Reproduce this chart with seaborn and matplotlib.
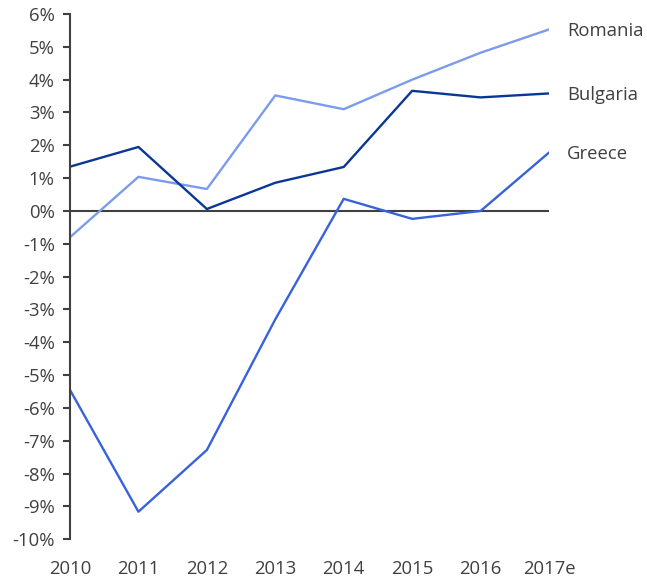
import matplotlib
matplotlib.use('Agg')
import matplotlib.pyplot as plt
import seaborn as sns
import pandas as pd
import numpy as np
from matplotlib.ticker import FuncFormatter

# data (% growth)
years = ['2010', '2011', '2012', '2013', '2014', '2015', '2016', '2017e']
romania = [-0.8, 1.04, 0.67, 3.52, 3.1, 4.0, 4.82, 5.53]
bulgaria = [1.35, 1.95, 0.06, 0.86, 1.34, 3.66, 3.46, 3.58]
greece = [-5.45, -9.16, -7.28, -3.3, 0.37, -0.24, 0.0, 1.78]

countries = ['Romania', 'Bulgaria', 'Greece']
colors = {'Romania': '#7b9cec', 'Bulgaria': '#0a3796', 'Greece': '#3862dc'}

df = pd.DataFrame({
    'x': list(range(len(years))) * 3,
    'value': romania + bulgaria + greece,
    'country': np.repeat(countries, len(years)),
})

sns.set_style('white')
plt.rcParams['font.family'] = ['Open Sans', 'DejaVu Sans']
FS = 13.3

fig = plt.figure(figsize=(6.47, 5.79), dpi=100)
ax = fig.add_axes([70 / 647, 1 - 539.3 / 579, (549 - 70) / 647, (539.3 - 14) / 579])

sns.lineplot(data=df, x='x', y='value', hue='country', palette=colors,
             linewidth=1.7, legend=False, ax=ax)

ax.axhline(0, color='#404040', lw=1.5, zorder=1)

ax.set_xlim(0, len(years) - 1)
ax.set_ylim(-10, 6)
ax.set_yticks(range(-10, 7))
ax.yaxis.set_major_formatter(FuncFormatter(lambda v, p: f'{int(v)}%'))
ax.set_xticks(range(len(years)))
ax.set_xticklabels(years)
ax.set_xlabel('')
ax.set_ylabel('')

for s in ['top', 'right', 'bottom']:
    ax.spines[s].set_visible(False)
ax.spines['left'].set_color('#404040')
ax.spines['left'].set_linewidth(1.5)
ax.spines['left'].set_zorder(3)

ax.tick_params(axis='y', length=5, width=1.5, color='#404040', direction='out',
               labelsize=FS, labelcolor='#404040', pad=6, left=True)
ax.tick_params(axis='x', length=0, pad=15, labelsize=FS, labelcolor='#404040')

last = {'Romania': romania[-1], 'Bulgaria': bulgaria[-1], 'Greece': greece[-1]}
for c in countries:
    ax.annotate(c, xy=(len(years) - 1, last[c]), xytext=(13, -1),
                textcoords='offset points', va='center', ha='left',
                fontsize=FS, color='#404040', annotation_clip=False)

fig.savefig('out.png', dpi=100)
